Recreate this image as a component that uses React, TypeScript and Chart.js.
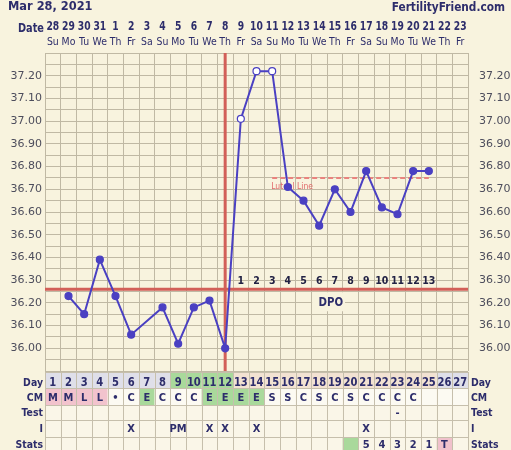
import React, { useEffect, useRef } from "react";
import { Chart, registerables } from "chart.js";

Chart.register(...registerables);

// ---------- DATA ----------
const title = "Mar 28, 2021";
const siteName = "FertilityFriend.com";
const cycleDays = ["1","2","3","4","5","6","7","8","9","10","11","12","13","14","15","16","17","18","19","20","21","22","23","24","25","26","27"];
const dates = ["28","29","30","31","1","2","3","4","5","6","7","8","9","10","11","12","13","14","15","16","17","18","19","20","21","22","23"];
const weekdays = ["Su","Mo","Tu","We","Th","Fr","Sa","Su","Mo","Tu","We","Th","Fr","Sa","Su","Mo","Tu","We","Th","Fr","Sa","Su","Mo","Tu","We","Th","Fr"];
const temps: (number | null)[] = [null, 36.23, 36.15, 36.39, 36.23, 36.06, null, 36.18, 36.02, 36.18, 36.21, 36.0, 37.01, 37.22, 37.22, 36.71, 36.65, 36.54, 36.7, 36.6, 36.78, 36.62, 36.59, 36.78, 36.78, null, null];
const openCircleDays = [13, 14, 15];
const coverLine = 36.26;
const ovulationDay = 12;
const lutealLevel = 36.75;
const lutealStartDay = 15;
const lutealEndDay = 25;
const dpoLabels = ["1","2","3","4","5","6","7","8","9","10","11","12","13"];
const dpoStartDay = 13;
const cmRow = ["M","M","L","L","•","C","E","C","C","C","E","E","E","E","S","S","C","S","C","S","C","C","C","C","","",""];
const testRow = ["","","","","","","","","","","","","","","","","","","","","","","-","","","",""];
const iRow = ["","","","","","X","","","PM","","X","X","","X","","","","","","","X","","","","","",""];
const statsRow = ["","","","","","","","","","","","","","","","","","","","","5","4","3","2","1","T",""];
const fertileDays = [9, 10, 11, 12];
const cycleEndDay = 25;
const statsGreenDay = 20;
const yTickMin = 36.0;
const yTickMax = 37.2;

// ---------- STYLE ----------
const BG = "#f8f3de";
const GRID = "#c0b9a4";
const NAVY = "#2d2d6b";
const BLUE = "#4a40c2";
const RED = "#d25f58";
const PINKLINE = "#e9837e";
const FONT = "'DejaVu Sans', Verdana, sans-serif";

function txt(ctx: CanvasRenderingContext2D, s: string, x: number, y: number, font: string, color: string, align: CanvasTextAlign = "center", sx = 1) {
  ctx.save();
  ctx.font = font;
  ctx.fillStyle = color;
  ctx.textAlign = align;
  ctx.textBaseline = "alphabetic";
  ctx.translate(x, y);
  ctx.scale(sx, 1);
  ctx.fillText(s, 0, 0);
  ctx.restore();
}

const ffPlugin = {
  id: "ffPlugin",
  beforeDraw(chart: any) {
    const ctx = chart.ctx as CanvasRenderingContext2D;
    ctx.save();
    ctx.fillStyle = BG;
    ctx.fillRect(0, 0, chart.width, chart.height);
    ctx.restore();
  },
  beforeDatasetsDraw(chart: any) {
    const ctx = chart.ctx as CanvasRenderingContext2D;
    const xs = chart.scales.x;
    const ys = chart.scales.y;
    const area = chart.chartArea;
    const colW = xs.getPixelForValue(1) - xs.getPixelForValue(0);

    // DPO box
    const dpoY = ys.getPixelForValue(coverLine);
    ctx.save();
    ctx.fillStyle = BG;
    ctx.fillRect(xs.getPixelForValue(17) - colW * 0.45, dpoY + 3, colW * 2.1, 19);
    ctx.restore();
    txt(ctx, "DPO", xs.getPixelForValue(17) + colW * 0.75, dpoY + 17, `bold 12px ${FONT}`, NAVY, "center", 0.85);

    // cover line
    ctx.save();
    ctx.strokeStyle = RED;
    ctx.lineWidth = 3;
    ctx.beginPath();
    ctx.moveTo(area.left, dpoY);
    ctx.lineTo(area.right, dpoY);
    ctx.stroke();
    // ovulation line
    const ox = xs.getPixelForValue(ovulationDay - 1);
    ctx.beginPath();
    ctx.moveTo(ox, area.top);
    ctx.lineTo(ox, area.bottom);
    ctx.stroke();
    ctx.restore();

    // DPO numbers
    dpoLabels.forEach((s, i) => {
      txt(ctx, s, xs.getPixelForValue(dpoStartDay - 1 + i), dpoY - 5, `bold 10.5px ${FONT}`, "#222244", "center", 0.9);
    });

    // luteal label
    const ly = ys.getPixelForValue(lutealLevel);
    txt(ctx, "Luteal Line", xs.getPixelForValue(lutealStartDay - 1) - 1, ly + 11, `8.5px ${FONT}`, "#e06a6a", "left", 0.9);
  },
  afterDraw(chart: any) {
    const ctx = chart.ctx as CanvasRenderingContext2D;
    const xs = chart.scales.x;
    const area = chart.chartArea;
    const colW = xs.getPixelForValue(1) - xs.getPixelForValue(0);
    const n = cycleDays.length;

    // header
    txt(ctx, title, 8, 10, `bold 12px ${FONT}`, NAVY, "left", 0.95);
    txt(ctx, siteName, 505, 11, `bold 11.5px ${FONT}`, NAVY, "right", 0.92);
    txt(ctx, "Date", 44, 32, `bold 11.5px ${FONT}`, NAVY, "right", 0.85);
    for (let i = 0; i < n; i++) {
      const cx = xs.getPixelForValue(i);
      txt(ctx, dates[i], cx, 30, `bold 11.5px ${FONT}`, NAVY, "center", 0.8);
      txt(ctx, weekdays[i], cx, 45, `11px ${FONT}`, NAVY, "center", 0.85);
    }

    // table
    const rows = [
      { label: "Day", top: 372, h: 16, base: 386 },
      { label: "CM", top: 388, h: 17, base: 401 },
      { label: "Test", top: 405, h: 15, base: 416 },
      { label: "I", top: 420, h: 17, base: 432 },
      { label: "Stats", top: 437, h: 16, base: 448 },
    ];
    const cellColor = (r: number, i: number): string => {
      const day = i + 1;
      if (r === 0) {
        if (fertileDays.includes(day)) return "#a9d99b";
        if (day > fertileDays[fertileDays.length - 1] && day <= cycleEndDay) return "#f2e2d2";
        return "#dfdfe9";
      }
      if (r === 1) {
        const c = cmRow[i];
        if (c === "M" || c === "L") return "#f2c3cd";
        if (c === "E") return "#a9d99b";
        return "#fcfaf2";
      }
      if (r === 4) {
        if (day === statsGreenDay) return "#a9d99b";
        if (statsRow[i] === "T") return "#f0c1cc";
      }
      return "#faf6e8";
    };
    const rowText = [cycleDays, cmRow, testRow, iRow, statsRow];
    rows.forEach((row, r) => {
      for (let i = 0; i < n; i++) {
        const x0 = xs.getPixelForValue(i) - colW / 2;
        ctx.fillStyle = cellColor(r, i);
        ctx.fillRect(x0, row.top, colW, row.h);
      }
    });
    // grid lines
    ctx.save();
    ctx.strokeStyle = "#c6bfac";
    ctx.lineWidth = 1;
    ctx.beginPath();
    rows.forEach((row) => {
      ctx.moveTo(area.left, row.top + 0.5);
      ctx.lineTo(area.right, row.top + 0.5);
    });
    for (let i = 0; i <= n; i++) {
      const x0 = Math.round(xs.getPixelForValue(i) - colW / 2) + 0.5;
      ctx.moveTo(x0, rows[0].top);
      ctx.lineTo(x0, 450);
    }
    ctx.stroke();
    ctx.restore();

    rows.forEach((row, r) => {
      txt(ctx, row.label, 43, row.base, `bold 11px ${FONT}`, NAVY, "right", 0.85);
      txt(ctx, row.label, 471, row.base, `bold 11px ${FONT}`, NAVY, "left", 0.85);
      for (let i = 0; i < n; i++) {
        const s = rowText[r][i];
        if (!s) continue;
        const cx = xs.getPixelForValue(i);
        const font = r === 0 ? `bold 12.5px ${FONT}` : `bold 11px ${FONT}`;
        txt(ctx, s, cx, row.base, font, NAVY, "center", r === 0 ? 0.8 : 0.9);
      }
    });
  },
};

const tickCb = (v: any) => {
  const r = Math.round(Number(v) * 100);
  if (r % 10 !== 0 || r < Math.round(yTickMin * 100) || r > Math.round(yTickMax * 100)) return "";
  return (r / 100).toFixed(2);
};

export default function App() {
  const ref = useRef<HTMLCanvasElement | null>(null);
  useEffect(() => {
    if (!ref.current) return;
    const lutealData = cycleDays.map((_, i) => (i + 1 >= lutealStartDay && i + 1 <= lutealEndDay ? lutealLevel : null));
    const chart = new Chart(ref.current, {
      type: "line",
      data: {
        labels: cycleDays,
        datasets: [
          {
            data: temps,
            borderColor: BLUE,
            borderWidth: 2,
            spanGaps: true,
            pointRadius: 3.5,
            pointBorderWidth: 1.2,
            pointBorderColor: BLUE,
            pointBackgroundColor: (c: any) => (openCircleDays.includes(c.dataIndex + 1) ? "#ffffff" : BLUE),
            segment: {
              borderDash: (c: any) => (c.p1DataIndex - c.p0DataIndex > 1 ? [4, 3] : undefined),
              borderWidth: (c: any) => (c.p1DataIndex - c.p0DataIndex > 1 ? 1.5 : undefined),
            },
            tension: 0,
            order: 0,
          } as any,
          {
            data: lutealData,
            borderColor: PINKLINE,
            borderWidth: 2,
            borderDash: [5, 3],
            pointRadius: 0,
            order: 1,
          },
        ],
      },
      options: {
        responsive: false,
        animation: false,
        devicePixelRatio: 1,
        layout: { padding: { top: 53, bottom: 79, left: 0, right: 0 } },
        plugins: { legend: { display: false }, tooltip: { enabled: false } },
        scales: {
          x: {
            type: "category",
            offset: true,
            grid: { offset: true, color: GRID, drawTicks: false, lineWidth: 1 },
            border: { display: false },
            ticks: { display: false },
            afterFit: (s: any) => { s.height = 0; },
          },
          y: {
            position: "left",
            min: 35.9,
            max: 37.3,
            ticks: { stepSize: 0.05, autoSkip: false, callback: tickCb, color: "#4d4d5c", font: { family: "DejaVu Sans", size: 11 }, padding: 3 },
            grid: { color: GRID, drawTicks: false, lineWidth: 1 },
            border: { display: false },
            afterFit: (s: any) => { s.width = 45; },
          },
          y2: {
            position: "right",
            min: 35.9,
            max: 37.3,
            ticks: { stepSize: 0.05, autoSkip: false, callback: tickCb, color: "#4d4d5c", font: { family: "DejaVu Sans", size: 11 }, padding: 3 },
            grid: { display: false },
            border: { display: false },
            afterFit: (s: any) => { s.width = 43; },
          },
        },
      } as any,
      plugins: [ffPlugin],
    });
    return () => chart.destroy();
  }, []);
  return (
    <div style={{ position: "fixed", left: 0, top: 0, width: 511, height: 450, background: BG, overflow: "hidden" }}>
      <canvas ref={ref} width={511} height={450} style={{ display: "block", width: 511, height: 450 }} />
    </div>
  );
}
